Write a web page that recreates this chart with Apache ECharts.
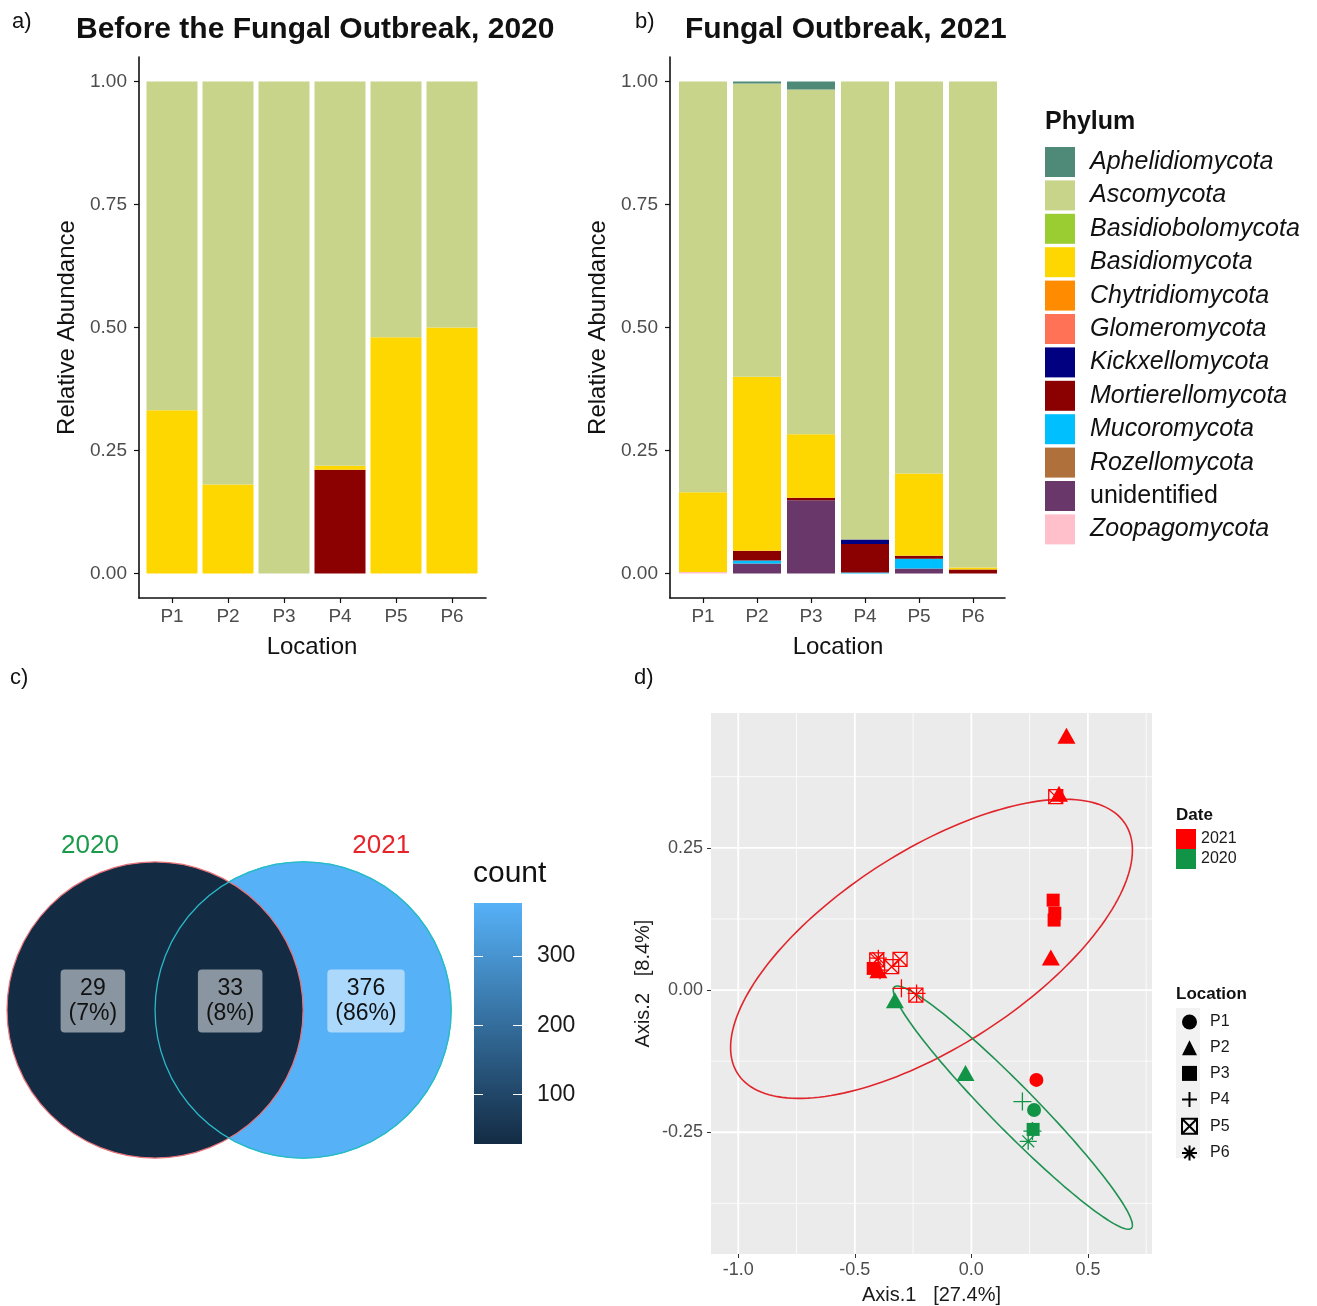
<!DOCTYPE html>
<html>
<head>
<meta charset="utf-8">
<title>Fungal community before and during the outbreak</title>
<script src="https://cdn.jsdelivr.net/npm/echarts@6.0.0/dist/echarts.min.js"></script>
<style>
html, body { margin: 0; padding: 0; background: #fff; }
#chartMain { width: 1317px; height: 1306px; }
</style>
</head>
<body>
<div id="chartMain"></div>
<script>
var FONT = 'Liberation Sans, Arial, Helvetica, sans-serif';

/*** 数据 ***/
var locations = ['P1', 'P2', 'P3', 'P4', 'P5', 'P6'];
var phyla = ['Aphelidiomycota', 'Ascomycota', 'Basidiobolomycota', 'Basidiomycota', 'Chytridiomycota',
    'Glomeromycota', 'Kickxellomycota', 'Mortierellomycota', 'Mucoromycota', 'Rozellomycota',
    'unidentified', 'Zoopagomycota'];
var phylumColors = ['#4f8a78', '#c9d48b', '#9acd32', '#ffd700', '#ff8c00', '#ff7256',
    '#000080', '#8b0000', '#00bfff', '#b0703c', '#693769', '#ffc0cb'];

// relative abundance 2020, P1..P6
var asco2020 = [0.668, 0.819, 1.000, 0.781, 0.520, 0.500];
var basidio2020 = [0.332, 0.181, 0, 0.008, 0.480, 0.500];
var mortier2020 = [0, 0, 0, 0.211, 0, 0];

// relative abundance 2021, P1..P6
var aphel2021 = [0, 0.004, 0.016, 0, 0, 0];
var asco2021 = [0.835, 0.596, 0.701, 0.931, 0.797, 0.988];
var basidio2021 = [0.162, 0.354, 0.129, 0, 0.167, 0.004];
var kickx2021 = [0, 0, 0, 0.009, 0, 0];
var mortier2021 = [0, 0.020, 0.005, 0.058, 0.006, 0.008];
var mucoro2021 = [0, 0.006, 0, 0.002, 0.020, 0];
var unident2021 = [0, 0.020, 0.149, 0, 0.010, 0];
var zoopago2021 = [0.003, 0, 0, 0, 0, 0];

var abundTicks = [0, 0.25, 0.5, 0.75, 1];

// Venn
var vennSetNames = ['2020', '2021'];
var vennSetColors = ['#1b9a4c', '#e8242b'];
var vennCenterX = [-2, 2];
var vennRadius = 4;
var vennSetLabelX = [-3.76, 4.11];
var vennSetLabelY = [4.43, 4.43];
var vennCounts = [29, 33, 376];
var vennPct = [7, 8, 86];
var vennRegionX = [-3.68, 0.03, 3.70];
var vennRegionY = [0.24, 0.24, 0.24];
var countTicks = [100, 200, 300];
var countMin = 29, countMax = 376;
var countLow = '#132B43', countHigh = '#56B1F7';

// PCoA
var pcoa2021X = [0.408, 0.376, 0.362, 0.351, 0.358, 0.355, 0.341, -0.399, -0.406, -0.399, -0.421, -0.392, -0.342, -0.306, -0.300, -0.235, -0.238, 0.279];
var pcoa2021Y = [0.447, 0.345, 0.340, 0.158, 0.135, 0.123, 0.057, 0.056, 0.053, 0.035, 0.038, 0.035, 0.041, 0.054, 0.003, -0.006, -0.009, -0.158];
var pcoa2021Loc = ['P2', 'P2', 'P5', 'P3', 'P3', 'P3', 'P2', 'P6', 'P5', 'P2', 'P3', 'P4', 'P5', 'P5', 'P4', 'P4', 'P5', 'P1'];
var pcoa2020X = [-0.328, -0.025, 0.219, 0.269, 0.265, 0.262, 0.244];
var pcoa2020Y = [-0.018, -0.146, -0.196, -0.211, -0.245, -0.248, -0.266];
var pcoa2020Loc = ['P2', 'P2', 'P4', 'P1', 'P3', 'P4', 'P6'];
var dateColors = {'2021': '#ff0000', '2020': '#129447'};

// 95% ellipses: centre, x semi-axis, y components
var ellipseDates = ['2021', '2020'];
var ellipseCx = [-0.171, 0.178];
var ellipseCy = [0.0725, -0.2067];
var ellipseA = [0.862, 0.513];
var ellipseC = [0.1735, -0.2066];
var ellipseD = [0.1976, 0.055];
var ellipseColors = ['#e0262c', '#1f9150'];

var pcoaTicksX = [-1, -0.5, 0, 0.5];
var pcoaTicksY = [-0.25, 0, 0.25];
var pcoaMinorX = [-0.75, -0.25, 0.25, 0.75];
var pcoaMinorY = [-0.375, -0.125, 0.125, 0.375];

/*** 符号 ***/
var locSymbols = {
    P1: 'circle',
    P2: 'triangle',
    P3: 'rect',
    P4: 'path://M5,0L5,10M0,5L10,5',
    P5: 'path://M0,0L10,0L10,10L0,10ZM0,0L10,10M10,0L0,10',
    P6: 'path://M5,0L5,10M0,5L10,5M1.5,1.5L8.5,8.5M8.5,1.5L1.5,8.5'
};
var locSizes = {P1: 14, P2: [18, 16], P3: 13, P4: 18, P5: 14, P6: 17};
var strokedLoc = {P4: true, P5: true, P6: true};

function locStyle(loc, color) {
    if (strokedLoc[loc]) {
        return {color: 'rgba(0,0,0,0)', borderColor: color, borderWidth: 1.3, opacity: 1};
    }
    return {color: color, opacity: 1};
}

var abund2020 = {Ascomycota: asco2020, Basidiomycota: basidio2020, Mortierellomycota: mortier2020};
var abund2021 = {Aphelidiomycota: aphel2021, Ascomycota: asco2021, Basidiomycota: basidio2021,
    Kickxellomycota: kickx2021, Mortierellomycota: mortier2021, Mucoromycota: mucoro2021,
    unidentified: unident2021, Zoopagomycota: zoopago2021};

// 柱子用 grid 0/1 (类目轴)，坐标轴线用 grid 2/3
function barSeries(table, gridIdx, stack, width) {
    var list = [];
    // ggplot 堆叠：列表第一个在最上面
    for (var k = phyla.length - 1; k >= 0; k--) {
        var vals = table[phyla[k]] || [0, 0, 0, 0, 0, 0];
        list.push({
            name: phyla[k],
            type: 'bar',
            xAxisIndex: gridIdx,
            yAxisIndex: gridIdx,
            stack: stack,
            barWidth: width,
            itemStyle: {color: phylumColors[k], opacity: 1},
            data: vals.slice()
        });
    }
    return list;
}

function pointSeries(date, xs, ys, locs) {
    var list = [];
    locations.forEach(function(loc) {
        var pts = [];
        for (var i = 0; i < xs.length; i++) {
            if (locs[i] === loc) pts.push([xs[i], ys[i]]);
        }
        if (!pts.length) return;
        list.push({
            name: date + ' ' + loc,
            type: 'scatter',
            xAxisIndex: 4,
            yAxisIndex: 4,
            z: 4,
            symbol: locSymbols[loc],
            symbolSize: locSizes[loc],
            itemStyle: locStyle(loc, dateColors[date]),
            data: pts
        });
    });
    return list;
}

function barX(idx) {
    return {
        type: 'category', gridIndex: idx, data: locations, boundaryGap: true,
        name: 'Location', nameLocation: 'middle', nameGap: 37,
        nameTextStyle: {fontSize: 24, color: '#111', fontFamily: FONT},
        axisLine: {show: false, onZero: false},
        axisTick: {show: true, alignWithLabel: true, length: 5, lineStyle: {color: '#111', width: 1.2}},
        axisLabel: {margin: 9, fontSize: 19, color: '#4d4d4d', fontFamily: FONT},
        splitLine: {show: false}
    };
}

function barY(idx) {
    return {type: 'value', gridIndex: idx, min: -0.05, max: 1.05, show: false};
}

function frameX(idx) {
    return {
        type: 'value', gridIndex: idx, min: 0, max: 1,
        axisLine: {show: true, onZero: false, lineStyle: {color: '#111', width: 1.6}},
        axisTick: {show: false}, axisLabel: {show: false}, splitLine: {show: false}
    };
}

function frameY(idx) {
    return {
        type: 'value', gridIndex: idx, min: -0.05, max: 1.05,
        name: 'Relative Abundance', nameLocation: 'middle', nameGap: 60, nameRotate: 90,
        nameTextStyle: {fontSize: 24, color: '#111', fontFamily: FONT},
        axisLine: {show: true, onZero: false, lineStyle: {color: '#111', width: 1.6}},
        axisTick: {show: true, length: 5, customValues: abundTicks, lineStyle: {color: '#111', width: 1.2}},
        axisLabel: {customValues: abundTicks, margin: 12, fontSize: 19, color: '#4d4d4d', fontFamily: FONT,
            formatter: function(v) { return v.toFixed(2); }},
        splitLine: {show: false}
    };
}

var myChart = echarts.init(document.getElementById('chartMain'), null, {renderer: 'canvas'});

var series = [];
series = series.concat(barSeries(abund2020, 0, 'y2020', 51));
series = series.concat(barSeries(abund2021, 1, 'y2021', 48));

// 网格线 (panel d)
var gridLineData = [];
pcoaMinorX.forEach(function(v) { gridLineData.push([v, 0, 0.8]); });
pcoaMinorY.forEach(function(v) { gridLineData.push([v, 1, 0.8]); });
pcoaTicksX.forEach(function(v) { gridLineData.push([v, 0, 1.8]); });
pcoaTicksY.forEach(function(v) { gridLineData.push([v, 1, 1.8]); });
series.push({
    name: 'grid lines', type: 'custom', xAxisIndex: 4, yAxisIndex: 4, z: 1, silent: true,
    renderItem: function(params, api) {
        var cs = params.coordSys;
        var v = api.value(0), isY = api.value(1) === 1, w = api.value(2);
        var shape;
        if (isY) {
            var py = api.coord([0, v])[1];
            shape = {x1: cs.x, y1: py, x2: cs.x + cs.width, y2: py};
        } else {
            var px = api.coord([v, 0])[0];
            shape = {x1: px, y1: cs.y, x2: px, y2: cs.y + cs.height};
        }
        if (!isY && (shape.x1 < cs.x || shape.x1 > cs.x + cs.width)) return;
        if (isY && (shape.y1 < cs.y || shape.y1 > cs.y + cs.height)) return;
        return {type: 'line', shape: shape, style: {stroke: '#ffffff', lineWidth: w}};
    },
    data: gridLineData
});

// 置信椭圆
series.push({
    name: 'ellipse', type: 'custom', xAxisIndex: 4, yAxisIndex: 4, z: 3, silent: true, clip: true,
    renderItem: function(params, api) {
        var cx = api.value(0), cy = api.value(1), a = api.value(2), c = api.value(3), d = api.value(4);
        var pts = [];
        for (var k = 0; k <= 180; k++) {
            var t = k / 180 * Math.PI * 2;
            pts.push(api.coord([cx + a * Math.cos(t), cy + c * Math.cos(t) + d * Math.sin(t)]));
        }
        return {type: 'polyline', shape: {points: pts},
            style: {stroke: ellipseColors[params.dataIndex], lineWidth: 1.6, fill: null}};
    },
    data: ellipseDates.map(function(d, i) {
        return [ellipseCx[i], ellipseCy[i], ellipseA[i], ellipseC[i], ellipseD[i]];
    })
});

series = series.concat(pointSeries('2021', pcoa2021X, pcoa2021Y, pcoa2021Loc));
series = series.concat(pointSeries('2020', pcoa2020X, pcoa2020Y, pcoa2020Loc));

// 图例用的空系列
['2021', '2020'].forEach(function(d) {
    series.push({name: d, type: 'scatter', xAxisIndex: 4, yAxisIndex: 4, symbol: 'rect',
        itemStyle: {color: dateColors[d], opacity: 1}, data: []});
});
locations.forEach(function(loc) {
    series.push({name: loc, type: 'scatter', xAxisIndex: 4, yAxisIndex: 4, symbol: locSymbols[loc],
        itemStyle: locStyle(loc, '#000'), data: []});
});

// Venn 圆
function countColor(c) {
    return echarts.color.lerp((c - countMin) / (countMax - countMin), [countLow, countHigh]);
}
series.push({
    name: 'venn', type: 'custom', xAxisIndex: 5, yAxisIndex: 5, z: 2, silent: true,
    renderItem: function(params, api) {
        var c = api.coord([api.value(0), 0]);
        var r = api.size([api.value(1), 0])[0];
        var kind = api.value(2);
        var style;
        if (kind === 0) style = {fill: countColor(vennCounts[2]), stroke: '#2ec8da', lineWidth: 1.3};
        else if (kind === 1) style = {fill: countColor(vennCounts[0]), stroke: '#e8727a', lineWidth: 1.2};
        else style = {fill: null, stroke: '#2bb8c8', lineWidth: 1.3};
        return {type: 'circle', shape: {cx: c[0], cy: c[1], r: r}, style: style};
    },
    data: [[vennCenterX[1], vennRadius, 0], [vennCenterX[0], vennRadius, 1], [vennCenterX[1], vennRadius, 2]]
});
series.push({
    name: 'venn counts', type: 'scatter', xAxisIndex: 5, yAxisIndex: 5, z: 5, silent: true,
    symbolSize: 1, itemStyle: {color: 'rgba(0,0,0,0)', opacity: 1},
    label: {
        show: true, position: 'inside', align: 'center', verticalAlign: 'middle',
        fontSize: 23, lineHeight: 25, color: '#111', fontFamily: FONT,
        backgroundColor: 'rgba(255,255,255,0.5)', borderRadius: 4, padding: [7, 8, 6, 8],
        formatter: function(p) { return p.value[2] + '\n(' + p.value[3] + '%)'; }
    },
    data: vennCounts.map(function(c, i) { return [vennRegionX[i], vennRegionY[i], c, vennPct[i]]; })
});
series.push({
    name: 'venn sets', type: 'scatter', xAxisIndex: 5, yAxisIndex: 5, z: 5, silent: true,
    symbolSize: 1, itemStyle: {color: 'rgba(0,0,0,0)', opacity: 1},
    label: {show: true, position: 'inside', fontSize: 26, fontFamily: FONT,
        formatter: function(p) { return p.name; }},
    data: vennSetNames.map(function(n, i) {
        return {name: n, value: [vennSetLabelX[i], vennSetLabelY[i]], label: {color: vennSetColors[i]}};
    })
});

// 色条
series.push({
    name: 'count bar', type: 'custom', xAxisIndex: 6, yAxisIndex: 6, z: 2, silent: true,
    renderItem: function(params, api) {
        var p0 = api.coord([api.value(0), api.value(1)]);
        var p1 = api.coord([api.value(2), api.value(3)]);
        return {type: 'rect', shape: {x: p0[0], y: p1[1], width: p1[0] - p0[0], height: p0[1] - p1[1]},
            style: {fill: new echarts.graphic.LinearGradient(0, 0, 0, 1, [
                {offset: 0, color: countHigh}, {offset: 1, color: countLow}])}};
    },
    data: [[0, countMin, 1, countMax]]
});

function hiddenAxis(idx, min, max) {
    return {type: 'value', gridIndex: idx, min: min, max: max, show: false};
}

function pcoaFmt(d) { return function(v) { return v.toFixed(d); }; }

option = {
    animation: false,
    backgroundColor: '#ffffff',
    textStyle: {fontFamily: FONT},
    grid: [
        {left: 144, top: 57, width: 336, height: 541},
        {left: 676, top: 57, width: 324, height: 541},
        {left: 139, top: 57, width: 347, height: 541},
        {left: 670, top: 57, width: 335, height: 541},
        {left: 711, top: 713, width: 441, height: 541, show: true, backgroundColor: '#ebebeb', borderWidth: 0},
        {left: 0, top: 830, width: 470, height: 360},
        {left: 474, top: 903, width: 48, height: 241}
    ],
    xAxis: [
        barX(0),
        barX(1),
        frameX(2),
        frameX(3),
        {
            type: 'value', gridIndex: 4, min: -1.117, max: 0.775,
            name: 'Axis.1   [27.4%]', nameLocation: 'middle', nameGap: 31,
            nameTextStyle: {fontSize: 20, color: '#1a1a1a', fontFamily: FONT},
            axisLine: {show: false, onZero: false},
            axisTick: {show: true, length: 4, customValues: pcoaTicksX, lineStyle: {color: '#333'}},
            axisLabel: {customValues: pcoaTicksX, margin: 7, fontSize: 18, color: '#4d4d4d', fontFamily: FONT,
                formatter: pcoaFmt(1)},
            splitLine: {show: false}
        },
        hiddenAxis(5, -6.19, 6.51),
        hiddenAxis(6, 0, 1)
    ],
    yAxis: [
        barY(0),
        barY(1),
        frameY(2),
        frameY(3),
        {
            type: 'value', gridIndex: 4, min: -0.464, max: 0.487,
            name: 'Axis.2   [8.4%]', nameLocation: 'middle', nameGap: 58, nameRotate: 90,
            nameTextStyle: {fontSize: 20, color: '#1a1a1a', fontFamily: FONT},
            axisLine: {show: false, onZero: false},
            axisTick: {show: true, length: 4, customValues: pcoaTicksY, lineStyle: {color: '#333'}},
            axisLabel: {customValues: pcoaTicksY, margin: 8, fontSize: 18, color: '#4d4d4d', fontFamily: FONT,
                formatter: pcoaFmt(2)},
            splitLine: {show: false}
        },
        hiddenAxis(5, -4.865, 4.865),
        {
            type: 'value', gridIndex: 6, min: countMin, max: countMax, position: 'left', z: 6,
            axisLine: {show: false},
            axisTick: {show: true, inside: true, length: 9, customValues: countTicks, lineStyle: {color: '#ffffff', width: 1}},
            axisLabel: {show: false},
            splitLine: {show: false}
        },
        {
            type: 'value', gridIndex: 6, min: countMin, max: countMax, position: 'right', z: 6,
            axisLine: {show: false},
            axisTick: {show: true, inside: true, length: 9, customValues: countTicks, lineStyle: {color: '#ffffff', width: 1}},
            axisLabel: {customValues: countTicks, margin: 15, fontSize: 23, color: '#1a1a1a', fontFamily: FONT},
            splitLine: {show: false}
        }
    ],
    legend: [
        {
            data: phyla, orient: 'vertical', left: 1045, top: 147, padding: 0,
            itemWidth: 30, itemHeight: 30, itemGap: 3.4, icon: 'rect', selectedMode: false,
            formatter: function(name) {
                return name === 'unidentified' ? '{u|' + name + '}' : '{i|' + name + '}';
            },
            textStyle: {
                fontSize: 25, color: '#111', padding: [0, 0, 0, 10], fontFamily: FONT,
                rich: {
                    i: {fontSize: 25, fontStyle: 'italic', color: '#111', fontFamily: FONT},
                    u: {fontSize: 25, color: '#111', fontFamily: FONT}
                }
            }
        },
        {
            data: ['2021', '2020'], orient: 'vertical', left: 1176, top: 829, padding: 0,
            itemWidth: 20, itemHeight: 20, itemGap: 0, icon: 'rect', selectedMode: false,
            textStyle: {fontSize: 16, color: '#1a1a1a', fontFamily: FONT}
        },
        {
            data: locations, orient: 'vertical', left: 1181, top: 1014, padding: 0,
            itemWidth: 15, itemHeight: 15, itemGap: 9.7, selectedMode: false,
            textStyle: {fontSize: 16, color: '#1a1a1a', padding: [0, 0, 0, 8], fontFamily: FONT}
        }
    ],
    graphic: [
        {type: 'rect', z: 0, shape: {x: 1176, y: 1008, width: 24, height: 150}, style: {fill: '#f2f2f2'}},
        {type: 'text', x: 12, y: 22, style: {text: 'a)', fontSize: 22, fontFamily: FONT, fill: '#111', verticalAlign: 'middle'}},
        {type: 'text', x: 635, y: 22, style: {text: 'b)', fontSize: 22, fontFamily: FONT, fill: '#111', verticalAlign: 'middle'}},
        {type: 'text', x: 10, y: 678, style: {text: 'c)', fontSize: 22, fontFamily: FONT, fill: '#111', verticalAlign: 'middle'}},
        {type: 'text', x: 634, y: 678, style: {text: 'd)', fontSize: 22, fontFamily: FONT, fill: '#111', verticalAlign: 'middle'}},
        {type: 'text', x: 76, y: 30, style: {text: 'Before the Fungal Outbreak, 2020', fontSize: 30, fontWeight: 'bold', fontFamily: FONT, fill: '#111', verticalAlign: 'middle'}},
        {type: 'text', x: 685, y: 30, style: {text: 'Fungal Outbreak, 2021', fontSize: 30, fontWeight: 'bold', fontFamily: FONT, fill: '#111', verticalAlign: 'middle'}},
        {type: 'text', x: 1045, y: 122, style: {text: 'Phylum', fontSize: 25, fontWeight: 'bold', fontFamily: FONT, fill: '#111', verticalAlign: 'middle'}},
        {type: 'text', x: 473, y: 874, style: {text: 'count', fontSize: 30, fontFamily: FONT, fill: '#111', verticalAlign: 'middle'}},
        {type: 'text', x: 1176, y: 815, style: {text: 'Date', fontSize: 17, fontWeight: 'bold', fontFamily: FONT, fill: '#111', verticalAlign: 'middle'}},
        {type: 'text', x: 1176, y: 994, style: {text: 'Location', fontSize: 17, fontWeight: 'bold', fontFamily: FONT, fill: '#111', verticalAlign: 'middle'}}
    ],
    series: series
};

myChart.setOption(option);
</script>
</body>
</html>
